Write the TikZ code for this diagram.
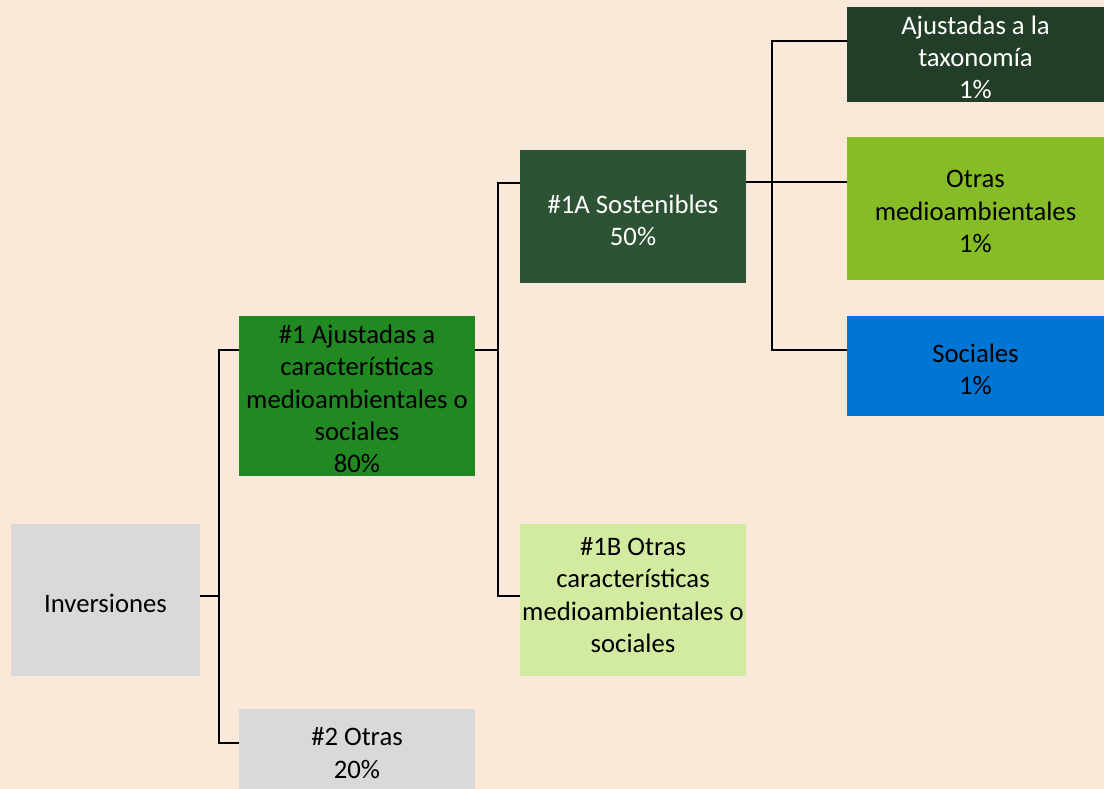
\documentclass[tikz,border=0pt]{standalone}
\usepackage{fontspec}
\setmainfont{Carlito}
\usetikzlibrary{calc}
\definecolor{bg}{RGB}{250,232,216}
\definecolor{grayb}{RGB}{217,217,217}
\definecolor{forest}{RGB}{34,136,34}
\definecolor{darkg}{RGB}{45,83,52}
\definecolor{darkerg}{RGB}{35,62,40}
\definecolor{limeg}{RGB}{134,188,37}
\definecolor{paleg}{RGB}{211,235,160}
\definecolor{blueb}{RGB}{0,118,212}
\begin{document}
\begin{tikzpicture}[x=1pt,y=-1pt,
  box/.style={rectangle,inner sep=0pt,outer sep=0pt,anchor=north west},
  lbl/.style={inner sep=0pt,align=center,font=\fontsize{26.7}{32.2}\selectfont},
  conn/.style={line width=2pt,black}]
\fill[bg] (0,0) rectangle (1104,789);
\useasboundingbox (0,0) rectangle (1104,789);
% nodes
\node[box,fill=grayb,minimum width=189pt,minimum height=152pt,
  label={[lbl,yshift=-3pt]center:Inversiones}] (inv) at (11,524) {};
\node[box,fill=forest,minimum width=236pt,minimum height=160pt,
  label={[lbl,yshift=-3pt]center:{\#1 Ajustadas a\\caracter\'isticas\\medioambientales o\\sociales\\80\%}}] (n1) at (239,316) {};
\node[box,fill=grayb,minimum width=236pt,minimum height=88pt,
  label={[lbl]center:{\#2 Otras\\20\%}}] (two) at (239,709) {};
\node[box,fill=darkg,minimum width=226pt,minimum height=133pt,
  label={[lbl,text=white,yshift=-4pt]center:{\#1A Sostenibles\\50\%}}] (s1a) at (520,150) {};
\node[box,fill=paleg,minimum width=226pt,minimum height=152pt,
  label={[lbl,yshift=5pt]center:{\#1B Otras\\caracter\'isticas\\medioambientales o\\sociales}}] (s1b) at (520,524) {};
\node[box,fill=darkerg,minimum width=257pt,minimum height=95pt,
  label={[lbl,text=white,yshift=-3pt]center:{Ajustadas a la\\taxonom\'ia\\1\%}}] (aj) at (847,7) {};
\node[box,fill=limeg,minimum width=257pt,minimum height=143pt,
  label={[lbl,yshift=-3pt]center:{Otras\\medioambientales\\1\%}}] (om) at (847,137) {};
\node[box,fill=blueb,minimum width=257pt,minimum height=100pt,
  label={[lbl,yshift=-3pt]center:{Sociales\\1\%}}] (soc) at (847,316) {};
% junction columns
\coordinate (j1) at (219,0);
\coordinate (j2) at (498,0);
\coordinate (j3) at (772,0);
% connection points
\coordinate (ie) at ([yshift=4pt]inv.east);
\coordinate (n1w) at ([yshift=-34pt]n1.north west);
\coordinate (n1e) at ([yshift=-34pt]n1.north east);
\coordinate (tw) at ([yshift=-34pt]two.north west);
\coordinate (s1aw) at ([yshift=-33pt]s1a.north west);
\coordinate (s1ae) at ([yshift=-32pt]s1a.north east);
\coordinate (s1bw) at ([yshift=-72pt]s1b.north west);
\coordinate (ajw) at ([yshift=-34pt]aj.north west);
\coordinate (omw) at ([yshift=-45pt]om.north west);
\coordinate (socw) at ([yshift=-34pt]soc.north west);
% connectors
\draw[conn] (ie) -- (ie -| j1);
\draw[conn] (n1w) -- (n1w -| j1) |- (tw);
\draw[conn] (n1e) -- (n1e -| j2);
\draw[conn] (s1aw) -- (s1aw -| j2) |- (s1bw);
\draw[conn] (s1ae) -- (omw);
\draw[conn] (ajw) -- (ajw -| j3) |- (socw);
\end{tikzpicture}
\end{document}
